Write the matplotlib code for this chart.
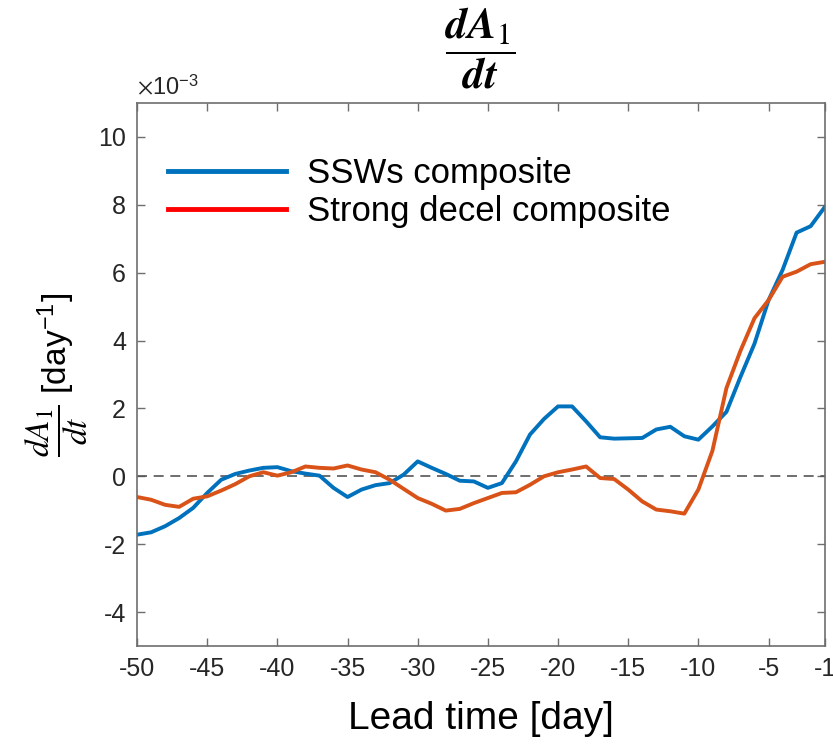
import numpy as np
import matplotlib
matplotlib.use("Agg")
import matplotlib.pyplot as plt
from matplotlib.lines import Line2D

plt.rcParams['font.family'] = ['Liberation Sans', 'DejaVu Sans']
plt.rcParams['axes.unicode_minus'] = False
plt.rcParams['mathtext.fontset'] = 'custom'
plt.rcParams['mathtext.rm'] = 'STIXGeneral'
plt.rcParams['mathtext.it'] = 'STIXGeneral:italic'
plt.rcParams['mathtext.bf'] = 'STIXGeneral:italic:bold'

# lead time in days
lead = np.arange(-50, 0)

# values in units of 1e-3 day^-1
ssw = [-1.72, -1.65, -1.47, -1.23, -0.93, -0.49, -0.10, 0.07, 0.17, 0.25,
       0.27, 0.15, 0.08, 0.02, -0.34, -0.61, -0.39, -0.26, -0.20, 0.05,
       0.44, 0.25, 0.07, -0.13, -0.15, -0.34, -0.20, 0.44, 1.23, 1.69,
       2.06, 2.06, 1.62, 1.15, 1.11, 1.12, 1.13, 1.38, 1.46, 1.18,
       1.08, 1.47, 1.90, 2.93, 3.91, 5.19, 6.08, 7.18, 7.37, 7.93]

decel = [-0.61, -0.69, -0.84, -0.90, -0.66, -0.59, -0.42, -0.23, 0.00, 0.12,
         0.02, 0.12, 0.29, 0.25, 0.23, 0.32, 0.20, 0.12, -0.10, -0.37,
         -0.64, -0.81, -1.01, -0.96, -0.79, -0.64, -0.49, -0.47, -0.25, 0.00,
         0.12, 0.20, 0.29, -0.05, -0.08, -0.39, -0.74, -0.98, -1.03, -1.10,
         -0.39, 0.75, 2.60, 3.70, 4.66, 5.19, 5.88, 6.03, 6.25, 6.32]

blue = '#0072BD'
orange = '#D95319'
axcol = '#6e6e6e'

fig = plt.figure(figsize=(8.33, 7.49), dpi=100)
ax = fig.add_axes([0.1645, 0.1375, 0.8255, 0.725])

ax.axhline(0, color='#555555', ls=(0, (6, 4)), lw=1.2)
ax.plot(lead, ssw, color=blue, lw=2.8)
ax.plot(lead, decel, color=orange, lw=2.8)

ax.set_xlim(-50, -1)
ax.set_ylim(-5, 11)
ax.set_xticks([-50, -45, -40, -35, -30, -25, -20, -15, -10, -5, -1])
ax.set_yticks([-4, -2, 0, 2, 4, 6, 8, 10])
ax.tick_params(direction='in', length=6, width=1, colors=axcol, labelcolor='#262626',
               labelsize=18, top=True, right=True, pad=8)
for s in ax.spines.values():
    s.set_color(axcol)
    s.set_linewidth(1.2)

ax.text(0, 1.005, r'$\times$10$^{\mathregular{-3}}$', transform=ax.transAxes,
        fontsize=17, color='#262626', va='bottom', ha='left')

ax.set_xlabel('Lead time [day]', fontsize=28, labelpad=14)
ax.set_ylabel(r'$\dfrac{dA_1}{dt}$ [day$^{\mathregular{-1}}$]', fontsize=24, labelpad=6)
ax.set_title(r'$\mathbf{\dfrac{dA_{\mathrm{1}}}{dt}}$', fontsize=31, pad=30)

handles = [Line2D([], [], color=blue, lw=3.5), Line2D([], [], color='#FF0000', lw=3.5)]
ax.legend(handles, ['SSWs composite', 'Strong decel composite'], loc='upper left',
          bbox_to_anchor=(0.0, 0.958), frameon=False, fontsize=25, handlelength=3.4,
          handletextpad=0.6, labelspacing=0.15)

fig.savefig('out.png', dpi=100)
